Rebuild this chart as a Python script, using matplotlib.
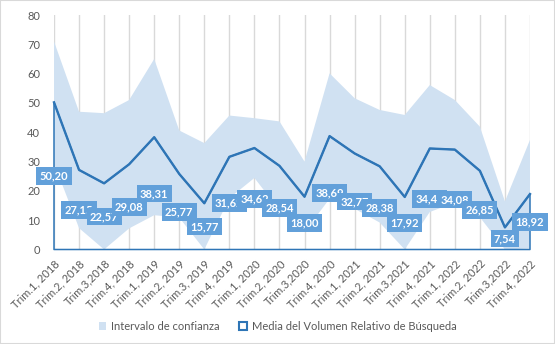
import numpy as np
import matplotlib
matplotlib.use("Agg")
import matplotlib.pyplot as plt
from matplotlib.patches import Patch

plt.rcParams['font.family'] = ['Lato', 'DejaVu Sans']

trimestres = ["Trim.1, 2018", "Trim.2, 2018", "Trim.3,2018", "Trim.4, 2018",
              "Trim.1, 2019", "Trim.2, 2019", "Trim.3, 2019", "Trim.4, 2019",
              "Trim.1, 2020", "Trim.2, 2020", "Trim.3,2020", "Trim.4, 2020",
              "Trim.1, 2021", "Trim.2, 2021", "Trim.3,2021", "Trim.4, 2021",
              "Trim.1, 2022", "Trim.2, 2022", "Trim.3,2022", "Trim.4, 2022"]
media = [50.20, 27.15, 22.57, 29.08, 38.31, 25.77, 15.77, 31.62, 34.62, 28.54,
         18.00, 38.69, 32.77, 28.38, 17.92, 34.46, 34.08, 26.85, 7.54, 18.92]
ic_sup = [71.0, 47.0, 46.5, 51.0, 65.0, 40.6, 36.3, 45.7, 44.8, 43.7,
          30.0, 60.1, 51.6, 47.6, 45.9, 56.1, 51.0, 41.9, 16.4, 37.4]
ic_inf = [29.4, 7.3, 0.0, 7.2, 11.7, 10.9, 0.0, 17.5, 24.4, 13.4,
          6.0, 17.3, 13.9, 9.2, 0.0, 12.8, 16.0, 11.0, 0.0, 0.4]

azul = '#2E75B6'
azul_claro = '#D0E1F2'
gris = '#595959'

fig = plt.figure(figsize=(5.55, 3.44), dpi=100)
ax = fig.add_axes([54/555, (344-249.5)/344, (530-54)/555, (249.5-15)/344])

x = np.arange(len(trimestres))

ax.fill_between(x, ic_inf, ic_sup, facecolor=azul_claro, edgecolor='none', zorder=1)
ax.fill_between(x, 0, media, facecolor='none', edgecolor=azul, lw=1.1, zorder=3, clip_on=False)
ax.plot(x, media, color=azul, lw=1.7, zorder=4, clip_on=False)

for xi, v in zip(x, media):
    ax.text(xi, v / 2, f"{v:.2f}".replace('.', ','), ha='center', va='center',
            color='white', fontsize=8, fontweight='bold', zorder=5,
            bbox=dict(boxstyle='square,pad=0.3', fc='#62A0DA', ec='none'))

ax.set_xlim(0, len(trimestres) - 1)
ax.set_ylim(0, 80)
ax.set_yticks(range(0, 81, 10))
ax.set_xticks(x)
ax.set_xticklabels(trimestres, rotation=45, ha='right', rotation_mode='anchor')
ax.tick_params(axis='both', length=0, colors=gris, labelsize=8)
ax.tick_params(axis='y', pad=10)
ax.tick_params(axis='x', pad=6)
ax.grid(axis='x', color='#D9D9D9', lw=1, zorder=0)
ax.set_axisbelow(True)
for s in ax.spines.values():
    s.set_visible(False)

handles = [Patch(facecolor=azul_claro, edgecolor='none', label='Intervalo de confianza'),
           Patch(facecolor='white', edgecolor=azul, lw=1.5,
                 label='Media del Volumen Relativo de Búsqueda')]
leg = fig.legend(handles=handles, loc='center', bbox_to_anchor=(0.5, 1 - 326/344), ncol=2,
                 frameon=False, fontsize=8, handlelength=0.7, handleheight=0.7,
                 handletextpad=0.4, columnspacing=1.8)
for t in leg.get_texts():
    t.set_color(gris)

fig.patches.append(plt.Rectangle((0, 0), 1, 1, transform=fig.transFigure,
                                 fill=False, edgecolor='#D9D9D9', lw=1.5))

fig.savefig('out.png', dpi=100)
